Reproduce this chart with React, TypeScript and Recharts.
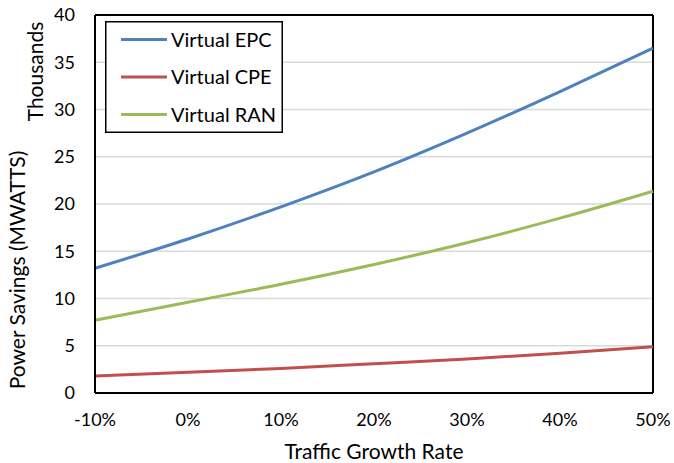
import React from "react";
import {
  LineChart,
  Line,
  XAxis,
  YAxis,
  CartesianGrid,
  ReferenceLine,
  Legend,
  Label,
} from "recharts";

const growthRates = [-10, 0, 10, 20, 30, 40, 50];
const virtualEPC = [13.2, 16.3, 19.7, 23.4, 27.5, 31.9, 36.5];
const virtualCPE = [1.8, 2.2, 2.6, 3.1, 3.6, 4.2, 4.9];
const virtualRAN = [7.7, 9.6, 11.5, 13.6, 15.9, 18.5, 21.35];
const seriesNames = ["Virtual EPC", "Virtual CPE", "Virtual RAN"];
const yTicks = [0, 5, 10, 15, 20, 25, 30, 35, 40];
const xTicks = [-10, 0, 10, 20, 30, 40, 50];

const data = growthRates.map((g, i) => ({
  rate: g,
  epc: virtualEPC[i],
  cpe: virtualCPE[i],
  ran: virtualRAN[i],
}));

const FONT = "Lato, 'Open Sans', sans-serif";

const LegendBox = (props: any) => {
  const payload = [...(props.payload || [])].sort(
    (a: any, b: any) => seriesNames.indexOf(a.value) - seriesNames.indexOf(b.value)
  );
  return (
    <svg width={178} height={112} style={{ display: "block" }}>
      <rect x={0.75} y={0.75} width={176.5} height={110.5} fill="#fff" stroke="#000" strokeWidth={1.5} />
      {payload.map((p: any, i: number) => {
        const cy = 18.5 + i * 37.5;
        return (
          <g key={i}>
            <line x1={16} x2={62} y1={cy} y2={cy} stroke={p.color} strokeWidth={3} />
            <text x={66} y={cy + 7} fontFamily={FONT} fontSize={20} fill="#000">
              {p.value}
            </text>
          </g>
        );
      })}
    </svg>
  );
};

export default function App() {
  return (
    <div style={{ position: "absolute", left: 0, top: 0, background: "#fff" }}>
      <LineChart
        width={674}
        height={463}
        data={data}
        margin={{ top: 15, right: 21, bottom: 0, left: 0 }}
        style={{ fontFamily: FONT }}
      >
        <CartesianGrid vertical={false} stroke="#d9d9d9" strokeWidth={1.5} />
        <XAxis
          dataKey="rate"
          type="number"
          domain={[-10, 50]}
          ticks={xTicks}
          tickFormatter={(v: number) => `${v}%`}
          height={70}
          tickSize={0}
          tickMargin={20}
          axisLine={{ stroke: "#000", strokeWidth: 2 }}
          tick={{ fill: "#000", fontSize: 18, fontFamily: FONT }}
        >
          <Label
            content={() => (
              <text x={374} y={459} textAnchor="middle" fontFamily={FONT} fontSize={21} fill="#000">
                Traffic Growth Rate
              </text>
            )}
          />
        </XAxis>
        <YAxis
          type="number"
          domain={[0, 40]}
          ticks={yTicks}
          width={95}
          tickSize={0}
          tickMargin={20}
          axisLine={{ stroke: "#000", strokeWidth: 2 }}
          tick={{ fill: "#000", fontSize: 18, fontFamily: FONT }}
        >
          <Label
            content={() => (
              <g>
                <text
                  x={25}
                  y={270}
                  transform="rotate(-90, 25, 270)"
                  textAnchor="middle"
                  fontFamily={FONT}
                  fontSize={21}
                  fill="#000"
                >
                  Power Savings (MWATTS)
                </text>
                <text
                  x={43}
                  y={71.5}
                  transform="rotate(-90, 43, 71.5)"
                  textAnchor="middle"
                  fontFamily={FONT}
                  fontSize={21}
                  fill="#000"
                >
                  Thousands
                </text>
              </g>
            )}
          />
        </YAxis>
        <ReferenceLine y={40} stroke="#000" strokeWidth={2} />
        <ReferenceLine x={50} stroke="#000" strokeWidth={2} />
        <Line type="monotone" dataKey="epc" name="Virtual EPC" stroke="#4F81BD" strokeWidth={3} dot={false} isAnimationActive={false} />
        <Line type="monotone" dataKey="cpe" name="Virtual CPE" stroke="#C0504D" strokeWidth={3} dot={false} isAnimationActive={false} />
        <Line type="monotone" dataKey="ran" name="Virtual RAN" stroke="#9BBB59" strokeWidth={3} dot={false} isAnimationActive={false} />
        <Legend
          layout="vertical"
          align="center"
          verticalAlign="middle"
          content={LegendBox}
          wrapperStyle={{ left: 105, top: 21, width: 178, height: 112 }}
        />
      </LineChart>
    </div>
  );
}
